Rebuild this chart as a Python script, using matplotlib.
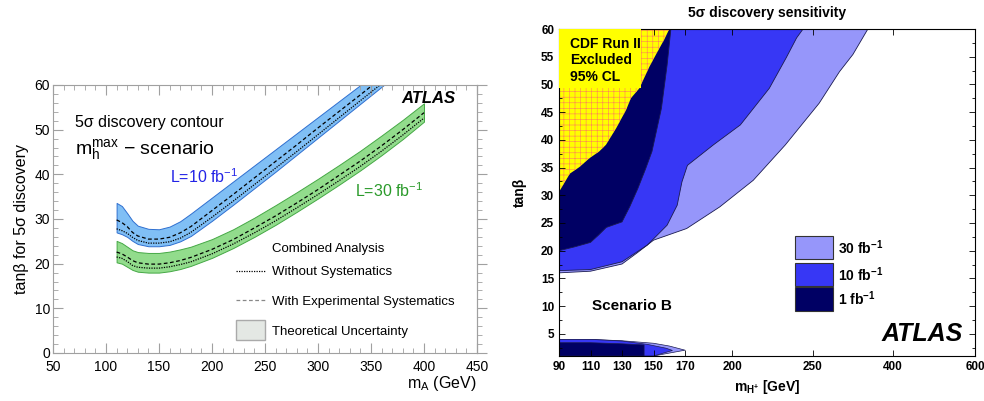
import numpy as np
import matplotlib
matplotlib.use("Agg")
import matplotlib.pyplot as plt
from matplotlib.ticker import MultipleLocator, FixedLocator, NullFormatter
from matplotlib.patches import Rectangle

plt.rcParams['font.family'] = ['Liberation Sans', 'DejaVu Sans']
plt.rcParams['mathtext.fontset'] = 'custom'
plt.rcParams['mathtext.rm'] = 'Liberation Sans'
plt.rcParams['mathtext.it'] = 'Liberation Sans:italic'
plt.rcParams['mathtext.bf'] = 'Liberation Sans:bold'
plt.rcParams['hatch.linewidth'] = 0.45

# ---- left panel: 5 sigma contour bands vs m_A ----
blue_x = [110, 115, 120, 125, 130, 140, 150, 160, 170, 180, 200, 220, 240, 260, 280, 300, 320, 340, 360, 380]
blue_hi = [33.6, 32.9, 31.3, 29.6, 28.5, 27.8, 27.7, 28.3, 29.5, 31.2, 34.8, 38.4, 42.0, 45.6, 49.2, 52.8, 56.4, 60.0, 63.6, 67.2]
blue_lo = [27.0, 26.6, 26.0, 25.1, 24.4, 23.9, 23.9, 24.2, 25.0, 26.2, 29.6, 33.2, 36.9, 40.6, 44.4, 48.2, 52.0, 55.8, 59.6, 63.4]
blue_dash = [29.8, 29.2, 28.3, 27.0, 26.2, 25.5, 25.5, 25.9, 26.9, 28.3, 31.9, 35.5, 39.2, 42.9, 46.6, 50.4, 54.1, 57.8, 61.6, 65.3]
blue_dot = [27.8, 27.4, 26.8, 25.9, 25.2, 24.6, 24.6, 24.9, 25.7, 27.0, 30.4, 34.0, 37.7, 41.4, 45.1, 48.9, 52.7, 56.5, 60.3, 64.1]

green_x = [110, 115, 120, 125, 130, 140, 150, 160, 170, 180, 200, 220, 240, 260, 280, 300, 320, 340, 360, 380, 400]
green_hi = [25.1, 24.6, 23.8, 23.0, 22.6, 22.4, 22.4, 22.7, 23.2, 23.8, 25.5, 27.7, 30.3, 33.1, 36.0, 39.0, 42.1, 45.3, 48.7, 52.2, 55.9]
green_lo = [20.3, 20.0, 19.3, 18.6, 18.2, 18.0, 18.0, 18.3, 18.8, 19.5, 21.3, 23.5, 26.0, 28.7, 31.6, 34.6, 37.7, 40.9, 44.3, 47.9, 51.8]
green_dash = [22.6, 22.2, 21.5, 20.7, 20.2, 19.9, 19.9, 20.2, 20.7, 21.4, 23.2, 25.4, 28.0, 30.7, 33.6, 36.6, 39.8, 43.0, 46.4, 50.0, 53.8]
green_dot = [21.5, 21.2, 20.5, 19.6, 19.2, 19.0, 19.0, 19.3, 19.8, 20.4, 22.2, 24.4, 26.9, 29.6, 32.5, 35.5, 38.6, 41.8, 45.2, 48.8, 52.6]

# ---- right panel: discovery regions vs m_H+ ----
mh_ticks = [90, 110, 130, 150, 170, 200, 250, 400, 600]
mh_pos = [0, 1, 2, 3, 4, 5.5, 8.05, 10.6, 13.2]

lum30_x = [90, 110, 130, 140, 150, 171, 192, 213, 233, 262, 300, 325, 353]
lum30_y = [16.0, 16.3, 17.6, 19.7, 21.9, 24.0, 27.9, 32.7, 39.1, 46.6, 52.3, 55.4, 60]
lum10_x = [90, 110, 130, 146, 158.6, 165, 168, 171.5, 188, 205, 223, 233.5, 240, 244]
lum10_y = [16.4, 16.6, 18.0, 21.0, 24.6, 28.2, 32.4, 35.4, 39.1, 42.7, 49.3, 54.8, 58.4, 60]
lum1_x = [90, 100, 110, 115, 120, 130, 135, 140, 145, 149, 155, 158.6, 161]
lum1_y = [20.0, 20.7, 21.5, 22.8, 24.2, 25.2, 28.0, 31.2, 34.8, 37.9, 45.7, 53.5, 60]
cdf_x = [90, 96.9, 103, 109.4, 115.5, 119.8, 126.3, 132.6, 135.6, 141, 147.4, 152.7, 156.8, 160]
cdf_y = [30.6, 33.9, 35.1, 36.7, 37.9, 39.1, 42.1, 45.4, 47.5, 49.3, 53.2, 56.0, 58.1, 60]

low30_x = [90, 90, 110, 130, 150, 160, 170, 150]
low30_y = [1, 4.0, 4.0, 3.75, 3.3, 2.8, 2.05, 1.0]
low10_x = [90, 90, 110, 130, 146, 158, 162, 150]
low10_y = [1, 4.0, 4.0, 3.7, 3.1, 2.4, 2.0, 1.0]
low1_x = [90, 90, 110, 130, 144, 144]
low1_y = [1, 3.4, 3.4, 3.2, 3.0, 1.0]

legend_labels = ['30 fb$^{\\mathbf{-1}}$', '10 fb$^{\\mathbf{-1}}$', '1 fb$^{\\mathbf{-1}}$']
c30, c10, c1 = '#9696fa', '#3737f5', '#000064'

fig = plt.figure(figsize=(9.84, 4.01), dpi=100)

# ================= left =================
ax = fig.add_axes([53/984, 1-353/401, 424/984, 268/401])
gray = '#a0a0a0'
ax.fill_between(blue_x, blue_lo, blue_hi, facecolor='#80bff5', edgecolor='#2f6fd0', lw=0.7)
ax.plot(blue_x, blue_dash, color='k', lw=0.9, dashes=(3, 2))
ax.plot(blue_x, blue_dot, color='k', lw=0.9, dashes=(1, 1))
ax.fill_between(green_x, green_lo, green_hi, facecolor='#92dc8c', edgecolor='#45a845', lw=0.7)
ax.plot(green_x, green_dash, color='k', lw=0.9, dashes=(3, 2))
ax.plot(green_x, green_dot, color='k', lw=0.9, dashes=(1, 1))
ax.set_xlim(50, 450)
ax.set_ylim(0, 60)
ax.xaxis.set_major_locator(MultipleLocator(50))
ax.xaxis.set_minor_locator(MultipleLocator(10))
ax.yaxis.set_major_locator(MultipleLocator(10))
ax.yaxis.set_minor_locator(MultipleLocator(2))
ax.tick_params(which='both', direction='in', top=True, right=False, color=gray, labelsize=10, pad=2)
ax.tick_params(axis='x', which='both', pad=5)
ax.tick_params(which='major', length=7)
ax.tick_params(which='minor', length=3.5)
for s in ax.spines.values():
    s.set_color(gray)
sec = ax.secondary_yaxis('right')
sec.yaxis.set_major_locator(MultipleLocator(10))
sec.yaxis.set_minor_locator(MultipleLocator(2))
sec.yaxis.set_major_formatter(NullFormatter())
sec.tick_params(which='both', direction='out', color=gray)
sec.tick_params(which='major', length=7)
sec.tick_params(which='minor', length=3.5)
sec.spines['right'].set_color(gray)

ax.set_ylabel('tanβ for 5σ discovery', fontsize=11.5, labelpad=4)
ax.set_xlabel('$\\mathrm{m_A}$ (GeV)', fontsize=11.5, loc='right', labelpad=0)

ax.text(70.8, 50.7, '5σ discovery contour', fontsize=11.5, va='baseline')
ax.text(70.8, 44.6, '$\\mathrm{m}_\\mathrm{h}^\\mathrm{max}$ − scenario', fontsize=14, va='baseline')
ax.text(160.4, 38.0, 'L=10 fb$^{-1}$', fontsize=11.5, color='#2323e6', va='baseline')
ax.text(334.9, 34.9, 'L=30 fb$^{-1}$', fontsize=11.5, color='#2a9a2a', va='baseline')
ax.text(429.3, 56.0, 'ATLAS', fontsize=12, fontweight='bold', fontstyle='italic', ha='right', va='baseline')

ax.text(256.3, 22.7, 'Combined Analysis', fontsize=9.5, va='baseline')
ax.plot([222.6, 250], [18.4, 18.4], color='k', lw=0.9, dashes=(1, 1))
ax.text(256.3, 17.5, 'Without Systematics', fontsize=9.5, va='baseline')
ax.plot([222.6, 250], [11.9, 11.9], color='#888888', lw=0.9, dashes=(3, 2))
ax.text(256.3, 10.7, 'With Experimental Systematics', fontsize=9.5, va='baseline')
ax.add_patch(Rectangle((222.4, 2.9), 27.6, 4.5, facecolor='#e4e8e4', edgecolor='#aaaaaa', lw=1))
ax.text(256.3, 4.0, 'Theoretical Uncertainty', fontsize=9.5, va='baseline')

# ================= right =================
bx = fig.add_axes([559/984, 1-356/401, 416/984, 327/401])


def fwd(v):
    return np.interp(v, mh_ticks, mh_pos)


def inv(v):
    return np.interp(v, mh_pos, mh_ticks)


bx.set_xscale('function', functions=(fwd, inv))
bx.set_xlim(90, 600)
bx.set_ylim(1, 60)

edge = '#1a1a50'
for xs, ys, col in [(lum30_x, lum30_y, c30), (lum10_x, lum10_y, c10), (lum1_x, lum1_y, c1)]:
    bx.fill(xs + [90], ys + [60], facecolor=col, edgecolor='none')
    bx.plot(xs, ys, color=edge, lw=0.6)
bx.fill(cdf_x + [90], cdf_y + [60], facecolor='#ffff00', edgecolor='#ff8c50', hatch='+++', lw=0)
for xs, ys, col in [(low30_x, low30_y, c30), (low10_x, low10_y, c10), (low1_x, low1_y, c1)]:
    bx.fill(xs, ys, facecolor=col, edgecolor=edge, lw=0.5)

bx.add_patch(Rectangle((0.0, 0.82), 0.197, 0.18, transform=bx.transAxes, facecolor='#ffff00',
                       edgecolor='none', zorder=3))
bx.text(0.026, 0.975, 'CDF Run II\nExcluded\n95% CL', transform=bx.transAxes, fontsize=10,
        fontweight='bold', va='top', ha='left', linespacing=1.2, zorder=4)
bx.text(0.079, 0.153, 'Scenario B', transform=bx.transAxes, fontsize=11, fontweight='bold', va='center')
bx.text(0.971, 0.067, 'ATLAS', transform=bx.transAxes, fontsize=18, fontweight='bold',
        fontstyle='italic', ha='right', va='center')

rows = [0.332, 0.249, 0.175]
for yc, lab, col in zip(rows, legend_labels, [c30, c10, c1]):
    bx.add_patch(Rectangle((0.567, yc - 0.036), 0.092, 0.072, transform=bx.transAxes,
                           facecolor=col, edgecolor='#333333', lw=0.8, zorder=5))
    bx.text(0.671, yc, lab, transform=bx.transAxes, fontsize=10, fontweight='bold', va='center', zorder=5)

bx.xaxis.set_major_locator(FixedLocator(mh_ticks))
bx.set_xticklabels([str(t) for t in mh_ticks])
bx.xaxis.set_minor_locator(FixedLocator([]))
bx.yaxis.set_major_locator(FixedLocator(list(range(5, 61, 5))))
bx.yaxis.set_minor_locator(MultipleLocator(2.5))
bx.tick_params(which='both', direction='in', top=True, right=True, labelsize=8.5, width=0.6)
bx.tick_params(which='major', length=4)
bx.tick_params(which='minor', length=2)
for lab in bx.get_xticklabels() + bx.get_yticklabels():
    lab.set_fontweight('bold')
for s in bx.spines.values():
    s.set_linewidth(0.8)
bx.set_ylabel('tanβ', fontsize=10, fontweight='bold', labelpad=10)
bx.set_xlabel('$\\mathbf{m_{H^{+}}}$ [GeV]', fontsize=10, fontweight='bold', labelpad=4)
bx.set_title('5σ discovery sensitivity', fontsize=10, fontweight='bold', pad=9)

fig.savefig('out.png', dpi=100)
